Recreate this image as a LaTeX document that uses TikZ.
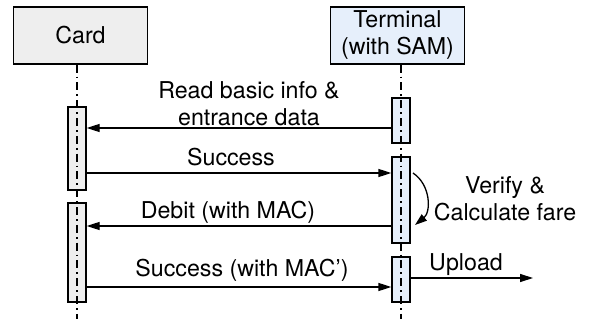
\documentclass[tikz,border=0pt]{standalone}
\usepackage{fontspec}
\setmainfont{TeX Gyre Heros}
\usetikzlibrary{arrows.meta, positioning}

\definecolor{cardfill}{RGB}{238,238,238}
\definecolor{termfill}{RGB}{230,239,251}

\begin{document}
\begin{tikzpicture}[x=0.5pt, y=-0.5pt,
    actor/.style={draw, line width=0.65pt, minimum width=67pt, minimum height=28.5pt, align=center, inner sep=0pt},
    bar/.style={draw, line width=0.65pt, minimum width=9pt, inner sep=0pt},
    life/.style={line width=0.6pt, dash pattern=on 4pt off 2pt on 0.9pt off 2pt},
    msg/.style={line width=0.65pt, -{Triangle[length=6.5pt, width=4pt]}},
    lbl/.style={align=center, inner sep=0pt},
    font=\fontsize{11.6}{13.5}\selectfont]

    \useasboundingbox (0,0) rectangle (589,320);

    % Participants
    \node[actor, fill=cardfill] (card) at (80.5,35.5) {Card};
    \node[actor, fill=termfill] (term) at (397.5,35.5) {Terminal\\(with SAM)};

    % Activation bars
    \node[bar, fill=cardfill, minimum height=41.5pt] (c1) at (77,148.5) {};
    \node[bar, fill=cardfill, minimum height=49.5pt] (c2) at (77,252.5) {};
    \node[bar, fill=termfill, minimum height=22.5pt] (t1) at (401,120.5) {};
    \node[bar, fill=termfill, minimum height=43pt] (t2) at (401,200) {};
    \node[bar, fill=termfill, minimum height=22.5pt] (t3) at (401,279.5) {};

    % Lifelines
    \coordinate (cend) at (77,319);
    \coordinate (tend) at (401,319);
    \draw[life] (card.south -| cend) -- (cend);
    \draw[life] (term.south -| tend) -- (tend);

    % Messages
    \coordinate (m1) at (0,128);
    \coordinate (m2) at (0,173);
    \coordinate (m3) at (0,226);
    \coordinate (m4) at (0,287);
    \draw[msg] (t1.west |- m1) -- (c1.east |- m1);
    \draw[msg] (c1.east |- m2) -- (t2.west |- m2);
    \draw[msg] (t2.west |- m3) -- (c2.east |- m3);
    \draw[msg] (c2.east |- m4) -- (t3.west |- m4);

    % Upload
    \coordinate (up) at (533,278);
    \draw[msg] (t3.east |- up) -- (up);

    % Verify (self)
    \coordinate (v1) at (413,173);
    \coordinate (v2) at (415,225);
    \draw[line width=0.65pt, -{Triangle[length=6pt, width=4pt]}] (v1) .. controls (431,185) and (431,212) .. (v2);

    % Labels
    \node[lbl] (l1) at (249,104) {Read basic info \&\\entrance data};
    \node[lbl] (l2) at (231,157) {Success};
    \node[lbl] (l3) at (228,212) {Debit (with MAC)};
    \node[lbl] (l4) at (242,270) {Success (with MAC')};
    \node[lbl] (l5) at (466,265) {Upload};
    \node[lbl] (l6) at (505,199) {Verify \&\\Calculate fare};

\end{tikzpicture}
\end{document}
